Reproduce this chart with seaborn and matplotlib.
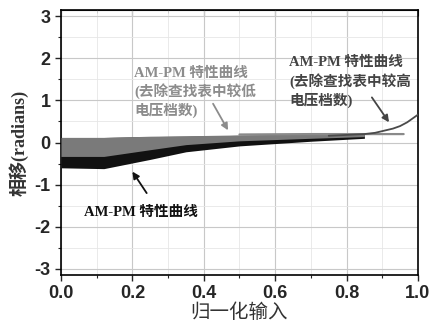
import numpy as np
import matplotlib
matplotlib.use("Agg")
import matplotlib.pyplot as plt
import pandas as pd
import seaborn as sns
from matplotlib.ticker import MultipleLocator

sns.set_style("ticks")
plt.rcParams['font.family'] = ['Liberation Sans', 'Noto Sans CJK SC', 'DejaVu Sans']

# original AM-PM curves (dark band): envelope
x_band = [0.0, 0.12, 0.25, 0.35, 0.5, 0.7, 0.85]
orig_low = [-0.60, -0.62, -0.40, -0.22, -0.08, 0.03, 0.10]
orig_high = [0.12, 0.12, 0.14, 0.15, 0.17, 0.19, 0.20]
# curves with low-voltage entries removed (grey band)
low_rm_low = [-0.33, -0.33, -0.17, -0.05, 0.04, 0.10, 0.14]
low_rm_high = [0.12, 0.12, 0.15, 0.16, 0.18, 0.20, 0.21]
# flat tail of the grey set
x_flat = [0.5, 0.7, 0.85, 0.96]
y_flat = [0.19, 0.20, 0.20, 0.20]
# curve with high-voltage entries removed
x_high = [0.75, 0.8, 0.85, 0.88, 0.9, 0.93, 0.95, 0.97, 1.0]
y_high = [0.16, 0.18, 0.20, 0.23, 0.27, 0.33, 0.39, 0.48, 0.66]

fig = plt.figure(figsize=(4.39, 3.25), dpi=100)
ax = fig.add_axes([0.139, 0.154, 0.813, 0.815])

ax.fill_between(x_band, orig_low, orig_high, color="#111111", lw=0, zorder=3)
ax.fill_between(x_band, low_rm_low, low_rm_high, color="#7a7a7a", lw=0, zorder=4)
flat = pd.DataFrame({"x": x_flat, "y": y_flat})
sns.lineplot(data=flat, x="x", y="y", color="#8a8a8a", lw=1.6, ax=ax, zorder=5)
high = pd.DataFrame({"x": x_high, "y": y_high})
sns.lineplot(data=high, x="x", y="y", color="#4a4a4a", lw=1.3, ax=ax, zorder=6)

ax.set_xlim(0, 1.0)
ax.set_ylim(-np.pi, np.pi)
ax.xaxis.set_major_locator(MultipleLocator(0.2))
ax.xaxis.set_minor_locator(MultipleLocator(0.1))
ax.yaxis.set_major_locator(MultipleLocator(1))
ax.yaxis.set_minor_locator(MultipleLocator(0.5))
ax.grid(which="major", color="#c8c8c8", lw=0.8)
ax.grid(which="minor", color="#e6e6e6", lw=0.6)
ax.set_axisbelow(True)
ax.tick_params(which="major", direction="out", length=4, width=1.0)
ax.tick_params(which="minor", direction="out", length=2.5, width=0.8)
ax.set_xticks([0, 0.2, 0.4, 0.6, 0.8, 1.0])
ax.set_xticklabels(["0.0", "0.2", "0.4", "0.6", "0.8", "1.0"], fontsize=13, fontweight="bold")
ax.set_yticks([-3, -2, -1, 0, 1, 2, 3])
ax.set_yticklabels(["-3", "-2", "-1", "0", "1", "2", "3"], fontsize=13, fontweight="bold")
for s in ax.spines.values():
    s.set_color("black")
    s.set_linewidth(1.2)

top = ax.secondary_xaxis("top")
top.xaxis.set_major_locator(MultipleLocator(0.2))
top.xaxis.set_minor_locator(MultipleLocator(0.1))
top.tick_params(which="both", direction="in", labeltop=False)
top.tick_params(which="major", length=4)
top.tick_params(which="minor", length=2.5)

ax.set_xlabel("归一化输入", fontsize=14, color="#333333",
              family=["Noto Sans CJK SC"], labelpad=0)
ax.set_ylabel("相移(radians)", fontsize=13, fontweight="bold", color="#333333",
              family=["Liberation Serif", "Noto Sans CJK SC"], labelpad=4)

ann_font = dict(fontsize=10.5, fontweight="bold",
                family=["Liberation Serif", "Noto Sans CJK SC"], linespacing=1.3)
arrow = dict(arrowstyle="-|>", lw=1.3, mutation_scale=10, shrinkA=0, shrinkB=0)

ax.text(0.225, -1.65, "AM-PM 特性曲线", ha="center", va="center",
        color="#111111", **ann_font)
ax.annotate("", xy=(0.2, -0.69), xytext=(0.24, -1.2),
            arrowprops=dict(color="#111111", **arrow))

ax.text(0.205, 1.8, "AM-PM 特性曲线\n(去除查找表中较低\n电压档数)", ha="left",
        va="top", color="#8c8c8c", **ann_font)
ax.annotate("", xy=(0.468, 0.29), xytext=(0.426, 0.92),
            arrowprops=dict(color="#8c8c8c", **arrow))

ax.text(0.64, 2.05, "AM-PM 特性曲线\n(去除查找表中较高\n电压档数)", ha="left",
        va="top", color="#444444", **ann_font)
ax.annotate("", xy=(0.919, 0.48), xytext=(0.871, 1.07),
            arrowprops=dict(color="#444444", **arrow))

fig.savefig("out.png", dpi=100)
